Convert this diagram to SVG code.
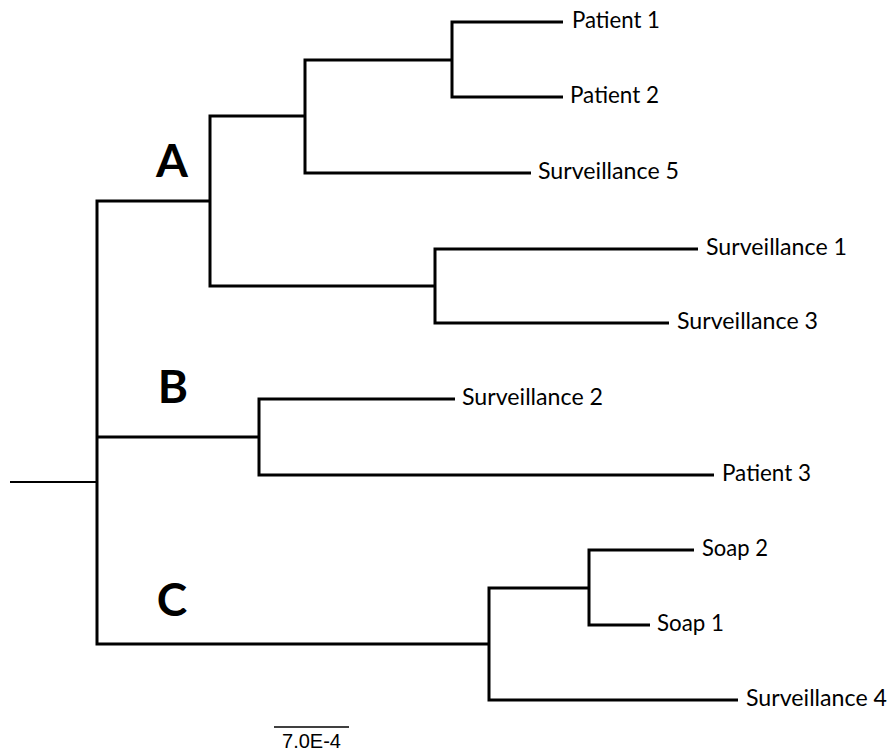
<svg xmlns="http://www.w3.org/2000/svg" width="890" height="751" viewBox="0 0 890 751">
<style>
.br{fill:none;stroke:#000;stroke-width:3;stroke-linejoin:miter;stroke-linecap:butt}
.thin{fill:none;stroke:#000;stroke-width:2}
.lbl{font-family:Lato,"Open Sans","Liberation Sans",sans-serif;font-size:23.5px;fill:#000}
.clade{font-family:Lato,"Open Sans","Liberation Sans",sans-serif;font-size:46px;font-weight:bold;fill:#000;text-anchor:middle}
.scale{font-family:"Liberation Sans",Arial,sans-serif;font-size:20px;fill:#000;text-anchor:middle}
</style>
<rect width="890" height="751" fill="#fff"/>
<g id="connectors">
<path class="thin" d="M10,482H97"/>
<path class="br" d="M210,201H97V644H489"/>
<path class="br" d="M97,437H259"/>
<path class="br" d="M305,116H210V286H435"/>
<path class="br" d="M452,60H305V173H531"/>
<path class="br" d="M563,22H452V97H563"/>
<path class="br" d="M698,249H435V323H669"/>
<path class="br" d="M455,399H259V475H714"/>
<path class="br" d="M589,588H489V700H738"/>
<path class="br" d="M694,550H589V625H650"/>
</g>
<g id="leaf-patient1"><text class="lbl" x="572" y="28" textLength="88" lengthAdjust="spacingAndGlyphs">Patient 1</text></g>
<g id="leaf-patient2"><text class="lbl" x="570" y="103" textLength="89" lengthAdjust="spacingAndGlyphs">Patient 2</text></g>
<g id="leaf-surv5"><text class="lbl" x="538" y="179" textLength="141" lengthAdjust="spacingAndGlyphs">Surveillance 5</text></g>
<g id="leaf-surv1"><text class="lbl" x="706" y="255" textLength="141" lengthAdjust="spacingAndGlyphs">Surveillance 1</text></g>
<g id="leaf-surv3"><text class="lbl" x="677" y="329" textLength="141" lengthAdjust="spacingAndGlyphs">Surveillance 3</text></g>
<g id="leaf-surv2"><text class="lbl" x="462" y="405" textLength="141" lengthAdjust="spacingAndGlyphs">Surveillance 2</text></g>
<g id="leaf-patient3"><text class="lbl" x="722" y="481" textLength="89" lengthAdjust="spacingAndGlyphs">Patient 3</text></g>
<g id="leaf-soap2"><text class="lbl" x="702" y="556" textLength="66" lengthAdjust="spacingAndGlyphs">Soap 2</text></g>
<g id="leaf-soap1"><text class="lbl" x="657" y="631" textLength="67" lengthAdjust="spacingAndGlyphs">Soap 1</text></g>
<g id="leaf-surv4"><text class="lbl" x="746" y="706" textLength="141" lengthAdjust="spacingAndGlyphs">Surveillance 4</text></g>
<g id="clade-A"><text class="clade" x="172" y="177">A</text></g>
<g id="clade-B"><text class="clade" x="173" y="403">B</text></g>
<g id="clade-C"><text class="clade" x="172" y="616">C</text></g>
<g id="scale-bar">
<path fill="none" stroke="#000" stroke-width="1.5" d="M274,727H349"/>
<text class="scale" x="311.5" y="748">7.0E-4</text>
</g>
</svg>
